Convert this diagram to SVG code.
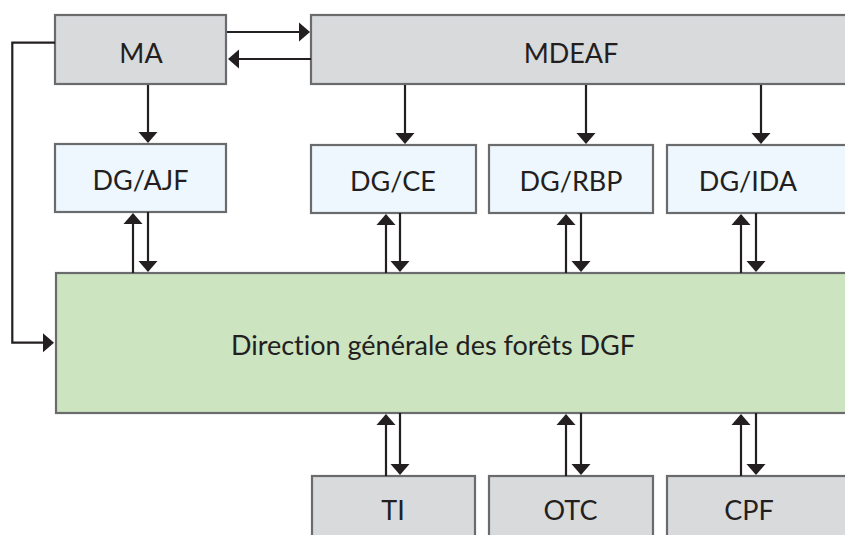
<svg xmlns="http://www.w3.org/2000/svg" width="845" height="535" viewBox="0 0 845 535">
  <defs>
    <marker id="head" markerUnits="userSpaceOnUse" markerWidth="12" markerHeight="20" refX="9" refY="9.5" orient="auto" overflow="visible">
      <path d="M0,0 L11,9.5 L0,19 Z" fill="#231f20"/>
    </marker>
    <style>
      .box { stroke: #6a6b6d; stroke-width: 2.2; }
      .gray { fill: #d9dadc; }
      .pale { fill: #eef7fd; }
      .green { fill: #cde4c0; }
      .lbl { font-family: Lato, "Open Sans", "Liberation Sans", sans-serif; font-size: 27px; fill: #231f20; text-anchor: middle; font-variant-ligatures: none; font-feature-settings: "liga" 0, "clig" 0; }
      .link { fill: none; stroke: #231f20; stroke-width: 2.2; }
      .arrow { marker-end: url(#head); }
    </style>
  </defs>

  <rect width="845" height="535" fill="#ffffff"/>

  <g id="node-ma">
    <rect class="box gray" x="55" y="15" width="171" height="69"/>
    <text class="lbl" x="141" y="62.5">MA</text>
  </g>
  <g id="node-mdeaf">
    <rect class="box gray" x="311" y="15" width="560" height="69"/>
    <text class="lbl" x="571" y="62.5">MDEAF</text>
  </g>

  <g id="node-dg-ajf">
    <rect class="box pale" x="55" y="144" width="171" height="68"/>
    <text class="lbl" x="140.5" y="190">DG/AJF</text>
  </g>
  <g id="node-dg-ce">
    <rect class="box pale" x="311" y="145" width="165" height="68"/>
    <text class="lbl" x="393" y="191">DG/CE</text>
  </g>
  <g id="node-dg-rbp">
    <rect class="box pale" x="489" y="145" width="164" height="68"/>
    <text class="lbl" x="571" y="191">DG/RBP</text>
  </g>
  <g id="node-dg-ida">
    <rect class="box pale" x="667" y="145" width="200" height="68"/>
    <text class="lbl" x="748" y="191">DG/IDA</text>
  </g>

  <g id="node-dgf">
    <rect class="box green" x="56" y="273" width="800" height="140"/>
    <text class="lbl" x="433" y="355">Direction générale des forêts DGF</text>
  </g>

  <g id="node-ti">
    <rect class="box gray" x="312" y="476" width="163" height="80"/>
    <text class="lbl" x="393" y="520">TI</text>
  </g>
  <g id="node-otc">
    <rect class="box gray" x="489" y="476" width="164" height="80"/>
    <text class="lbl" x="570.5" y="520">OTC</text>
  </g>
  <g id="node-cpf">
    <rect class="box gray" x="667" y="476" width="200" height="80"/>
    <text class="lbl" x="749" y="520">CPF</text>
  </g>

  <g id="connectors">
    <!-- MA <-> MDEAF -->
    <path class="link arrow" d="M227,32 H308"/>
    <path class="link arrow" d="M311,59 H230"/>
    <!-- ministries down to the directorates -->
    <path class="link arrow" d="M148,85 V141"/>
    <path class="link arrow" d="M405,85 V142"/>
    <path class="link arrow" d="M586,85 V142"/>
    <path class="link arrow" d="M761,85 V142"/>
    <!-- directorates <-> DGF -->
    <path class="link arrow" d="M133,273 V215"/>
    <path class="link arrow" d="M148,212 V270"/>
    <path class="link arrow" d="M386,273 V216"/>
    <path class="link arrow" d="M400,213 V270"/>
    <path class="link arrow" d="M566,273 V216"/>
    <path class="link arrow" d="M581,213 V270"/>
    <path class="link arrow" d="M741,273 V216"/>
    <path class="link arrow" d="M756,213 V270"/>
    <!-- DGF <-> TI / OTC / CPF -->
    <path class="link arrow" d="M386,476 V416"/>
    <path class="link arrow" d="M400,413 V473"/>
    <path class="link arrow" d="M566,476 V416"/>
    <path class="link arrow" d="M581,413 V473"/>
    <path class="link arrow" d="M741,476 V416"/>
    <path class="link arrow" d="M756,413 V473"/>
    <!-- MA loop down to DGF -->
    <path class="link arrow" d="M55,42.7 H12.3 V342.7 H52"/>
  </g>
</svg>
